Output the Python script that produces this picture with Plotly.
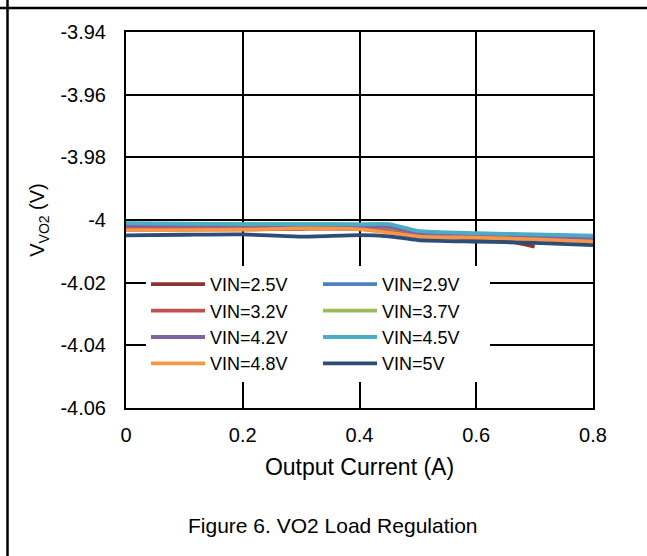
import plotly.graph_objects as go

# Output current (A)
X = [0, 0.1, 0.2, 0.3, 0.4, 0.45, 0.5, 0.6, 0.7, 0.8]
X_25 = [0, 0.1, 0.2, 0.3, 0.4, 0.45, 0.5, 0.6, 0.65, 0.7]

VIN_25 = [-4.0030, -4.0030, -4.0030, -4.0028, -4.0028, -4.0036, -4.0052, -4.0058, -4.0066, -4.0085]
VIN_29 = [-4.0012, -4.0013, -4.0014, -4.0014, -4.0015, -4.0016, -4.0037, -4.0044, -4.0048, -4.0052]
VIN_32 = [-4.0028, -4.0029, -4.0029, -4.0026, -4.0025, -4.0032, -4.0050, -4.0055, -4.0060, -4.0066]
VIN_37 = [-4.0014, -4.0015, -4.0015, -4.0016, -4.0017, -4.0024, -4.0040, -4.0046, -4.0050, -4.0056]
VIN_42 = [-4.0018, -4.0017, -4.0017, -4.0018, -4.0019, -4.0022, -4.0041, -4.0047, -4.0052, -4.0058]
VIN_45 = [-4.0010, -4.0012, -4.0013, -4.0013, -4.0014, -4.0013, -4.0035, -4.0042, -4.0046, -4.0050]
VIN_48 = [-4.0032, -4.0032, -4.0031, -4.0027, -4.0030, -4.0040, -4.0053, -4.0056, -4.0062, -4.0069]
VIN_50 = [-4.0049, -4.0047, -4.0046, -4.0053, -4.0048, -4.0052, -4.0064, -4.0069, -4.0073, -4.0080]

NAMES = ["VIN=2.5V", "VIN=2.9V", "VIN=3.2V", "VIN=3.7V",
         "VIN=4.2V", "VIN=4.5V", "VIN=4.8V", "VIN=5V"]
COLORS = ["#8B3533", "#4F81BD", "#C0504D", "#9BBB59",
          "#8064A2", "#4BACC6", "#F79646", "#2C4D75"]
SERIES = [(X_25, VIN_25), (X, VIN_29), (X, VIN_32), (X, VIN_37),
          (X, VIN_42), (X, VIN_45), (X, VIN_48), (X, VIN_50)]

Y_TICKS = [-4.06, -4.04, -4.02, -4.0, -3.98, -3.96, -3.94]
Y_TICKTEXT = ["-4.06", "-4.04", "-4.02", "-4", "-3.98", "-3.96", "-3.94"]
X_TICKS = [0, 0.2, 0.4, 0.6, 0.8]
X_TICKTEXT = ["0", "0.2", "0.4", "0.6", "0.8"]

FONT = "Liberation Sans, Arial, sans-serif"

fig = go.Figure()
for (xs, ys), name, color in zip(SERIES, NAMES, COLORS):
    fig.add_trace(go.Scatter(
        x=xs, y=ys, name=name, mode="lines",
        line=dict(color=color, width=3.8, shape="spline", smoothing=0.6),
    ))

W, H = 647, 556
L, R, T, B = 126, 54, 32, 148
pw, ph = W - L - R, H - T - B

def px_x(p):
    return (p - L) / pw

def px_y(p):
    return (H - B - p) / ph

fig.update_layout(
    width=W, height=H,
    margin=dict(l=L, r=R, t=T, b=B, pad=0),
    paper_bgcolor="white", plot_bgcolor="white",
    font=dict(family=FONT, size=20, color="black"),
    showlegend=True,
    legend=dict(
        orientation="h",
        x=px_x(146), y=px_y(266), xanchor="left", yanchor="top",
        bgcolor="white", borderwidth=0,
        font=dict(size=18, family=FONT),
        entrywidth=103, entrywidthmode="pixels",
        itemwidth=54,
        traceorder="normal",
    ),
    xaxis=dict(
        range=[0, 0.8], tickvals=X_TICKS, ticktext=X_TICKTEXT,
        showgrid=True, gridcolor="black", gridwidth=2,
        showline=True, linecolor="black", linewidth=2, mirror=True,
        zeroline=False, ticks="", ticklabelstandoff=8,
        tickfont=dict(size=20),
        title=dict(text="Output Current (A)", font=dict(size=23), standoff=14),
    ),
    yaxis=dict(
        range=[-4.06, -3.94], tickvals=Y_TICKS, ticktext=Y_TICKTEXT,
        showgrid=True, gridcolor="black", gridwidth=2,
        showline=True, linecolor="black", linewidth=2, mirror=True,
        zeroline=False, ticks="", ticklabelstandoff=14,
        tickfont=dict(size=20),
        title=dict(text="V<sub>VO2</sub> (V)", font=dict(size=20), standoff=10),
    ),
    shapes=[
        dict(type="line", xref="paper", yref="paper",
             x0=px_x(7.5), x1=px_x(7.5), y0=px_y(0), y1=px_y(556),
             line=dict(color="black", width=2.5)),
        dict(type="line", xref="paper", yref="paper",
             x0=px_x(0), x1=px_x(647), y0=px_y(8), y1=px_y(8),
             line=dict(color="black", width=2.5)),
    ],
    annotations=[
        dict(text="Figure 6. VO2 Load Regulation", xref="paper", yref="paper",
             x=px_x(333), y=px_y(525), xanchor="center", yanchor="middle",
             showarrow=False, font=dict(size=21, family=FONT)),
    ],
)

fig.write_html(
    "out.html",
    config={"displayModeBar": False},
    post_script="document.body.style.margin='0';document.body.style.padding='0';",
)
